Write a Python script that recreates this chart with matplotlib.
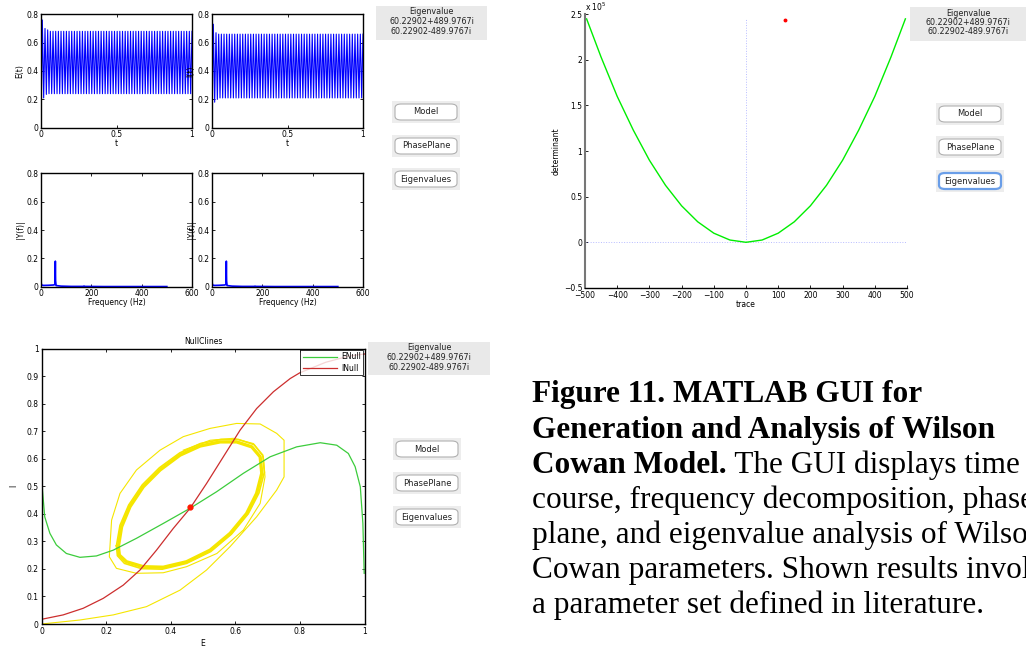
import numpy as np
import matplotlib
matplotlib.use("Agg")
import matplotlib.pyplot as plt
from matplotlib.patches import Rectangle, FancyBboxPatch
from matplotlib.ticker import FuncFormatter

W, H = 1026, 649

# ---- time course ----
e_head = [0.0, 0.76, 0.21, 0.70, 0.235, 0.69]
e_cycle = [0.24, 0.68]
i_head = [0.0, 0.73, 0.18, 0.67, 0.20, 0.66]
i_cycle = [0.21, 0.66]
n_cycles = 54

# ---- frequency decomposition ----
freq = [0, 0.5, 2, 10, 30, 50, 55, 56, 57, 58, 60, 80, 120, 168, 171, 174, 250, 350, 500]
amp_e = [0.95, 0.03, 0.012, 0.009, 0.010, 0.012, 0.015, 0.05, 0.18, 0.04, 0.008,
         0.004, 0.002, 0.002, 0.005, 0.002, 0.001, 0.001, 0.001]
amp_i = [0.95, 0.03, 0.012, 0.009, 0.010, 0.012, 0.015, 0.05, 0.18, 0.04, 0.008,
         0.004, 0.002, 0.002, 0.004, 0.002, 0.001, 0.001, 0.001]

# ---- trace / determinant (x 1e5) ----
trace = [-495, -450, -400, -350, -300, -250, -200, -150, -100, -50, 0,
         50, 100, 150, 200, 250, 300, 350, 400, 450, 495]
determinant = [2.45, 2.03, 1.60, 1.23, 0.90, 0.625, 0.40, 0.225, 0.10, 0.025, 0.0,
               0.025, 0.10, 0.225, 0.40, 0.625, 0.90, 1.23, 1.60, 2.03, 2.45]
eig_trace, eig_det = 120.5, 2.437

# ---- nullclines / phase plane ----
enull_e = [0.0, 0.003, 0.010, 0.026, 0.046, 0.077, 0.119, 0.170, 0.222, 0.294, 0.377,
           0.460, 0.542, 0.625, 0.708, 0.790, 0.863, 0.914, 0.950, 0.971, 0.987, 0.995, 0.999]
enull_i = [0.601, 0.486, 0.389, 0.329, 0.287, 0.256, 0.242, 0.247, 0.268, 0.311, 0.365,
           0.420, 0.480, 0.547, 0.607, 0.643, 0.658, 0.649, 0.619, 0.571, 0.498, 0.365, 0.184]
inull_e = [0.0, 0.067, 0.129, 0.191, 0.253, 0.305, 0.356, 0.408, 0.460, 0.511, 0.563,
           0.615, 0.666, 0.718, 0.770, 0.80, 0.88, 0.95, 1.0]
inull_i = [0.017, 0.033, 0.057, 0.093, 0.141, 0.196, 0.268, 0.347, 0.420, 0.510, 0.607,
           0.704, 0.782, 0.843, 0.891, 0.912, 0.950, 0.972, 0.980]
cycle_e = [0.238, 0.248, 0.274, 0.315, 0.367, 0.429, 0.491, 0.553, 0.604, 0.651, 0.677,
           0.682, 0.666, 0.635, 0.584, 0.522, 0.449, 0.377, 0.315, 0.263, 0.241, 0.238]
cycle_i = [0.281, 0.353, 0.426, 0.498, 0.559, 0.613, 0.646, 0.661, 0.661, 0.643, 0.607,
           0.547, 0.474, 0.401, 0.329, 0.268, 0.226, 0.206, 0.208, 0.226, 0.250, 0.281]
cycle2_e = [0.232, 0.243, 0.270, 0.312, 0.365, 0.428, 0.492, 0.556, 0.609, 0.658, 0.685,
            0.690, 0.673, 0.640, 0.588, 0.524, 0.449, 0.374, 0.310, 0.257, 0.235, 0.232]
cycle2_i = [0.284, 0.358, 0.432, 0.505, 0.567, 0.621, 0.655, 0.670, 0.670, 0.651, 0.613,
            0.550, 0.475, 0.400, 0.326, 0.263, 0.220, 0.199, 0.201, 0.220, 0.248, 0.284]
trans_e = [0.0, 0.119, 0.222, 0.325, 0.429, 0.511, 0.584, 0.666, 0.728, 0.751, 0.751,
           0.728, 0.677, 0.604, 0.522, 0.439, 0.367, 0.294, 0.243, 0.217, 0.210, 0.232,
           0.294, 0.377, 0.449, 0.543, 0.625, 0.677, 0.692, 0.687, 0.656, 0.594, 0.522, 0.439]
trans_i = [0.0, 0.0145, 0.033, 0.063, 0.123, 0.196, 0.281, 0.389, 0.486, 0.534, 0.667,
           0.692, 0.726, 0.728, 0.710, 0.680, 0.631, 0.559, 0.474, 0.377, 0.244, 0.202,
           0.184, 0.186, 0.208, 0.256, 0.341, 0.438, 0.534, 0.607, 0.655, 0.674, 0.667, 0.631]
fixed_e, fixed_i = 0.46, 0.425

eig_lines = ["Eigenvalue", "60.22902+489.9767i", "60.22902-489.9767i"]
caption_bold = ["Figure 11. MATLAB GUI for", "Generation and Analysis of Wilson", "Cowan Model."]
caption_rest = [" The GUI displays time", "course, frequency decomposition, phase",
                "plane, and eigenvalue analysis of Wilson", "Cowan parameters. Shown results involve",
                "a parameter set defined in literature."]

TICK = 5.5


def px_axes(fig, x0, y0, x1, y1):
    return fig.add_axes([x0 / W, 1 - y1 / H, (x1 - x0) / W, (y1 - y0) / H])


def matlab_style(ax):
    ax.tick_params(direction="in", length=2.5, width=0.6, labelsize=TICK, pad=2,
                   top=True, right=True)
    for s in ax.spines.values():
        s.set_linewidth(1.0)


def eig_box(fig, x0, y0, x1, y1):
    fig.patches.append(Rectangle((x0 / W, 1 - y1 / H), (x1 - x0) / W, (y1 - y0) / H,
                                 transform=fig.transFigure, facecolor="#e9e9e9",
                                 edgecolor="none"))
    cx = (x0 + x1) / 2
    for k, line in enumerate(eig_lines):
        fig.text(cx / W, 1 - (y0 + 6 + 9.5 * k) / H, line, ha="center", va="center",
                 fontsize=5.8, color="#222222")


def button(fig, x0, y0, label, highlight=False):
    w, h = 62, 16
    fig.patches.append(Rectangle(((x0 - 3) / W, 1 - (y0 + h + 3) / H), (w + 6) / W, (h + 6) / H,
                                 transform=fig.transFigure, facecolor="#ededed", edgecolor="none"))
    fig.patches.append(FancyBboxPatch((x0 / W, 1 - (y0 + h) / H), w / W, h / H,
                                      boxstyle="round,pad=0,rounding_size=0.006",
                                      transform=fig.transFigure, facecolor="white",
                                      edgecolor="#6a9ee8" if highlight else "#b0b0b0",
                                      linewidth=1.6 if highlight else 0.8))
    fig.text((x0 + w / 2) / W, 1 - (y0 + h / 2) / H, label, ha="center", va="center",
             fontsize=6, color="#222222")


def short(v, pos=None):
    return f"{v:g}"


fig = plt.figure(figsize=(W / 100, H / 100), dpi=100)

# time course panels
e_series = e_head + e_cycle * n_cycles
i_series = i_head + i_cycle * n_cycles
for (x0, x1), series, lab in [((41, 192), e_series, "E(t)"), ((212, 363), i_series, "I(t)")]:
    ax = px_axes(fig, x0, 14.3, x1, 127.7)
    ax.plot(np.linspace(0, 1, len(series)), series, color="#0000ff", lw=0.8)
    ax.set_xlim(0, 1)
    ax.set_ylim(0, 0.8)
    ax.set_xticks([0, 0.5, 1])
    ax.set_yticks([0, 0.2, 0.4, 0.6, 0.8])
    ax.xaxis.set_major_formatter(FuncFormatter(short))
    ax.yaxis.set_major_formatter(FuncFormatter(short))
    ax.set_xlabel("t", fontsize=TICK, labelpad=0)
    ax.set_ylabel(lab, fontsize=TICK, labelpad=1)
    matlab_style(ax)

for (x0, x1), amp in [((41, 192), amp_e), ((212, 363), amp_i)]:
    ax = px_axes(fig, x0, 173.3, x1, 286.7)
    ax.plot(freq, amp, color="#0000ff", lw=1.2)
    ax.set_xlim(0, 600)
    ax.set_ylim(0, 0.8)
    ax.set_xticks([0, 200, 400, 600])
    ax.set_yticks([0, 0.2, 0.4, 0.6, 0.8])
    ax.yaxis.set_major_formatter(FuncFormatter(short))
    ax.set_xlabel("Frequency (Hz)", fontsize=TICK, labelpad=0)
    ax.set_ylabel("|Y(f)|", fontsize=TICK, labelpad=1)
    matlab_style(ax)

eig_box(fig, 376, 6, 487, 40)
button(fig, 395, 104, "Model")
button(fig, 395, 138, "PhasePlane")
button(fig, 395, 171, "Eigenvalues")

# trace / determinant panel (y in units of 1e5)
ax = px_axes(fig, 585, 14.3, 907, 287.9)
ax.plot([0, 0], [0, 2.45], color="#b8bcff", lw=0.7, ls=":")
ax.plot([-500, 500], [0, 0], color="#b8bcff", lw=0.7, ls=":")
ax.plot(trace, determinant, color="#00ee00", lw=1.0)
ax.plot(eig_trace, eig_det, "o", color="#ff0000", ms=1.8)
ax.set_xlim(-500, 500)
ax.set_ylim(-0.5, 2.5)
ax.set_xticks(range(-500, 501, 100))
ax.set_yticks([-0.5, 0, 0.5, 1, 1.5, 2, 2.5])
ax.yaxis.set_major_formatter(FuncFormatter(lambda v, p: f"{v:g}".replace("-", "\u2212")))
ax.text(0.0, 1.005, r"x 10$^5$", transform=ax.transAxes, fontsize=TICK, ha="left", va="bottom")
ax.tick_params(direction="in", length=2.5, width=0.6, labelsize=TICK, pad=2)
ax.spines["top"].set_visible(False)
ax.spines["right"].set_visible(False)
ax.spines["left"].set_color("#777777")
ax.spines["left"].set_linewidth(1.5)
ax.spines["bottom"].set_linewidth(1.0)
ax.set_xlabel("trace", fontsize=TICK, labelpad=0)
ax.set_ylabel("determinant", fontsize=TICK, labelpad=2)

eig_box(fig, 910, 7, 1026, 41)
button(fig, 939, 106, "Model")
button(fig, 939, 139, "PhasePlane")
button(fig, 939, 173, "Eigenvalues", highlight=True)

# nullclines panel
ax = px_axes(fig, 41.5, 348.5, 364.5, 624)
ax.plot(trans_e, trans_i, color="#f5e600", lw=0.8)
ax.plot(cycle2_e, cycle2_i, color="#f5e600", lw=1.2)
ax.plot(cycle_e, cycle_i, color="#f5e600", lw=2.4)
ax.plot(enull_e, enull_i, color="#3ccc3c", lw=0.9, label="ENull")
ax.plot(inull_e, inull_i, color="#cc2e2e", lw=0.9, label="INull")
ax.plot(fixed_e, fixed_i, "o", color="#ff1a00", ms=3.5)
ax.set_xlim(0, 1)
ax.set_ylim(0, 1)
ax.set_xticks([0, 0.2, 0.4, 0.6, 0.8, 1])
ax.set_yticks(np.arange(0, 1.01, 0.1))
ax.xaxis.set_major_formatter(FuncFormatter(short))
ax.yaxis.set_major_formatter(FuncFormatter(lambda v, p: f"{round(v, 2):g}"))
ax.set_xlabel("E", fontsize=TICK, labelpad=2)
ax.set_ylabel("I", fontsize=TICK, labelpad=6, rotation=90)
ax.set_title("NullClines", fontsize=TICK, pad=3)
matlab_style(ax)
leg = ax.legend(loc="upper right", fontsize=5.5, frameon=True, fancybox=False,
                borderpad=0.3, handlelength=4.5, labelspacing=0.3, borderaxespad=0.2,
                handletextpad=0.5)
leg.get_frame().set_edgecolor("black")
leg.get_frame().set_linewidth(0.7)

eig_box(fig, 368, 342, 490, 375)
button(fig, 396, 441, "Model")
button(fig, 396, 475, "PhasePlane")
button(fig, 396, 509, "Eigenvalues")

# caption
serif = "Liberation Serif"
cap_x = 532
baselines = [402, 438, 473, 508, 543, 578, 613]
cap_size = 22.5
for k, line in enumerate(caption_bold):
    fig.text(cap_x / W, 1 - baselines[k] / H, line, fontsize=cap_size, family=serif,
             weight="bold", va="baseline", ha="left")
fig.canvas.draw()
last_bold = fig.texts[-1]
bb = last_bold.get_window_extent(renderer=fig.canvas.get_renderer())
fig.text(bb.x1 / W, 1 - baselines[2] / H, caption_rest[0], fontsize=cap_size, family=serif,
         va="baseline", ha="left")
for k, line in enumerate(caption_rest[1:]):
    fig.text(cap_x / W, 1 - baselines[3 + k] / H, line, fontsize=cap_size, family=serif,
             va="baseline", ha="left")

fig.savefig("out.png", dpi=100)
